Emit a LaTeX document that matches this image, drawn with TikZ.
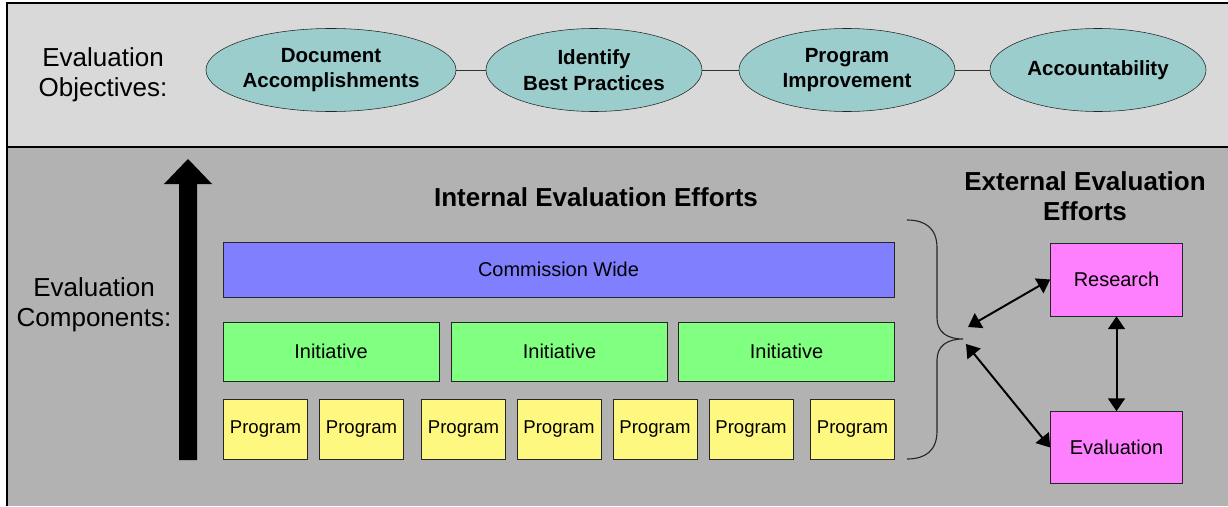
\documentclass[tikz,border=0pt]{standalone}
\usepackage{fontspec}
\setmainfont{Liberation Sans}
\usepackage{xcolor}
\usepackage{tikz}
\usetikzlibrary{shapes.geometric, arrows.meta}

\definecolor{objteal}{RGB}{155,205,205}
\definecolor{extpink}{RGB}{255,128,255}

\begin{document}
\begin{tikzpicture}[x=0.025cm, y=-0.025cm,
        objective/.style={ellipse, draw=black!85, fill=objteal, minimum width=5.4cm, minimum height=2.075cm, inner sep=0pt, align=center, font=\bfseries\fontsize{14.6}{18.2}\selectfont},
        tier/.style={rectangle, draw=black!85, inner sep=0pt, font=\fontsize{14.2}{17}\selectfont},
        program/.style={tier, fill=yellow!50, minimum width=2.1cm, minimum height=1.5cm, font=\fontsize{13.2}{16}\selectfont},
        sidelabel/.style={align=center, font=\fontsize{18.5}{21.3}\selectfont},
        heading/.style={align=center, font=\bfseries\fontsize{18.5}{21.3}\selectfont},
        twoway/.style={{Triangle[length=0.32cm, width=0.42cm]}-{Triangle[length=0.32cm, width=0.42cm]}, line width=1.4pt}]
        \useasboundingbox (0,0) rectangle (1228,506);

        \fill[black!15] (7,3)   rectangle (1228,147);
        \fill[black!30] (7,147) rectangle (1228,506);
        \draw[line width=1.4pt] (1228,3) -- (7,3) -- (7,506);
        \draw[line width=1.4pt] (7,147)  -- (1228,147);

        \node (objlabel)   at (103,75)   [sidelabel] {Evaluation\\Objectives:};
        \node (complabel)  at (94,305)   [sidelabel] {Evaluation\\Components:};

        \node (document)   at (331,70)   [objective, minimum width=5.975cm] {Document\\Accomplishments};
        \node (identify)   at (594,70)   [objective] {Identify\\Best Practices};
        \node (improve)    at (847,70)   [objective] {Program\\Improvement};
        \node (account)    at (1098,70)  [objective] {Accountability};

        \draw[black!80] (document) -- (identify);
        \draw[black!80] (identify) -- (improve);
        \draw[black!80] (improve)  -- (account);

        \fill (179,460) -- (179,184) -- (164,184) -- (188,159) -- (212,184) -- (197,184) -- (197,460) -- cycle;

        \node (internal)   at (596,197)  [heading] {Internal Evaluation Efforts};
        \node (external)   at (1085,196) [heading] {External Evaluation\\Efforts};

        \node (commission) at (558.5,269.5) [tier, fill=blue!50,  minimum width=16.775cm, minimum height=1.375cm] {Commission Wide};
        \node (init1)      at (331,351.5)   [tier, fill=green!50, minimum width=5.4cm,    minimum height=1.475cm] {Initiative};
        \node (init2)      at (559.5,351.5) [tier, fill=green!50, minimum width=5.4cm,    minimum height=1.475cm] {Initiative};
        \node (init3)      at (786.5,351.5) [tier, fill=green!50, minimum width=5.4cm,    minimum height=1.475cm] {Initiative};

        \node (prog1)      at (265.5,429)   [program] {Program};
        \node (prog2)      at (361.5,429)   [program] {Program};
        \node (prog3)      at (463.5,429)   [program] {Program};
        \node (prog4)      at (559,429)     [program] {Program};
        \node (prog5)      at (655,429)     [program] {Program};
        \node (prog6)      at (751,429)     [program] {Program};
        \node (prog7)      at (852.5,429)   [program] {Program};

        \draw[black!85, line width=0.8pt] (907,220) .. controls (925,220) and (937,228) .. (937,248) -- (937,318)
            .. controls (937,332) and (947,339) .. (963,339) .. controls (947,339) and (937,346) .. (937,360) -- (937,431)
            .. controls (937,451) and (925,459) .. (907,459);

        \node (research)   at (1116.5,279.5) [tier, fill=extpink, minimum width=3.3cm, minimum height=1.825cm] {Research};
        \node (evaluation) at (1116.5,447.5) [tier, fill=extpink, minimum width=3.3cm, minimum height=1.8cm]   {Evaluation};

        \coordinate (brace1) at (968,327);
        \coordinate (brace2) at (966,344);

        \draw[twoway] (brace1)   -- (research.west);
        \draw[twoway] (brace2)   -- (evaluation.west);
        \draw[twoway] (research) -- (evaluation);
    \end{tikzpicture}
\end{document}
